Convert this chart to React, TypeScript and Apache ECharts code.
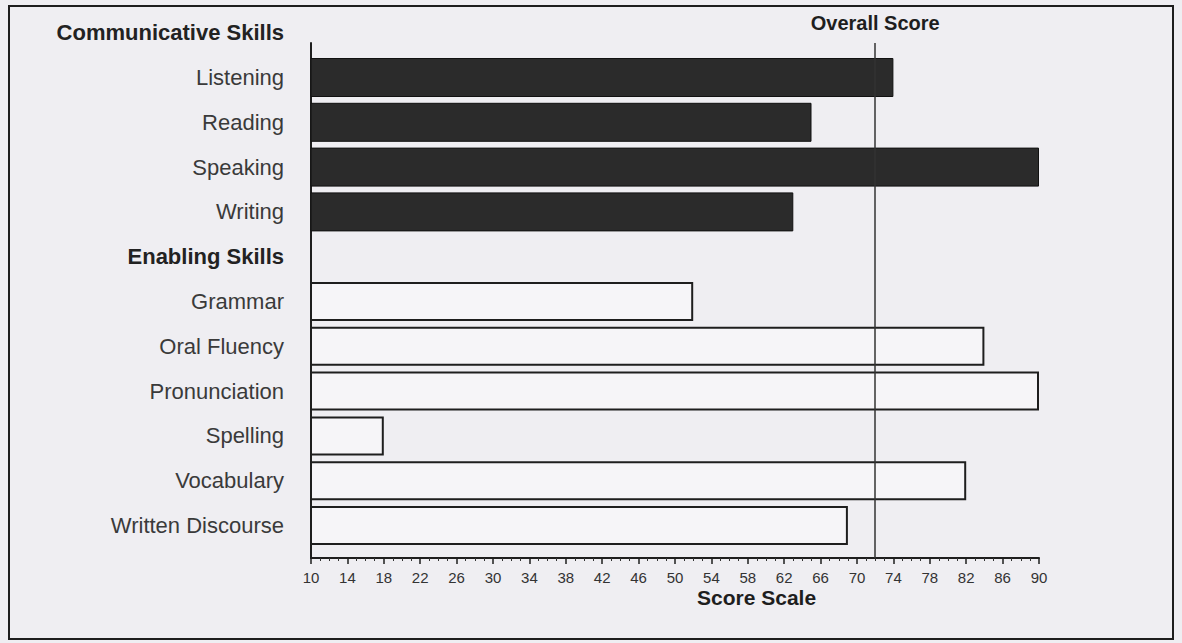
import React, { useEffect, useRef } from "react";
import * as echarts from "echarts";

const categories = [
  "Communicative Skills",
  "Listening",
  "Reading",
  "Speaking",
  "Writing",
  "Enabling Skills",
  "Grammar",
  "Oral Fluency",
  "Pronunciation",
  "Spelling",
  "Vocabulary",
  "Written Discourse",
];
const headers = ["Communicative Skills", "Enabling Skills"];
const communicative: (number | null)[] = [null, 74, 65, 90, 63, null, null, null, null, null, null, null];
const enabling: (number | null)[] = [null, null, null, null, null, null, 52, 84, 90, 18, 82, 69];
const overallScore = 72;
const scaleMin = 10;
const scaleMax = 90;
const scaleStep = 4;

export default function App() {
  const ref = useRef<HTMLDivElement>(null);
  useEffect(() => {
    if (!ref.current) return;
    const chart = echarts.init(ref.current, undefined, { renderer: "svg" });
    const font = "'Liberation Sans', Arial, sans-serif";
    chart.setOption({
      animation: false,
      backgroundColor: "#efeef2",
      textStyle: { fontFamily: font },
      graphic: [
        {
          type: "rect",
          shape: { x: 9, y: 6, width: 1164, height: 633 },
          style: { fill: "none", stroke: "#1e1e1e", lineWidth: 2 },
          silent: true,
        },
        {
          type: "text",
          left: 697,
          top: 587,
          style: { text: "Score Scale", font: `bold 21px ${font}`, fill: "#1e1e1e" },
        },
      ],
      grid: [
        { left: 311, right: 143, top: 10.3, height: 537.6 },
        { left: 311, right: 143, top: 43, bottom: 85 },
      ],
      xAxis: [
        { type: "value", gridIndex: 0, min: scaleMin, max: scaleMax, show: false },
        {
          type: "value",
          gridIndex: 1,
          min: scaleMin,
          max: scaleMax,
          interval: scaleStep,
          axisLine: { show: true, lineStyle: { color: "#1e1e1e", width: 2 } },
          axisTick: { show: true, length: 6, lineStyle: { color: "#1e1e1e", width: 1.5 } },
          minorTick: { show: true, splitNumber: 4, length: 3, lineStyle: { color: "#333" } },
          axisLabel: { color: "#333", fontSize: 15, margin: 12 },
          splitLine: { show: false },
        },
      ],
      yAxis: [
        {
          type: "category",
          gridIndex: 0,
          inverse: true,
          data: categories,
          axisLine: { show: false },
          axisTick: { show: false },
          axisLabel: {
            margin: 27,
            color: "#3a3a3a",
            fontSize: 22,
            formatter: (v: string) => (headers.includes(v) ? `{h|${v}}` : v),
            rich: { h: { fontWeight: "bold", fontSize: 22, color: "#222" } },
          },
        },
        {
          type: "value",
          gridIndex: 1,
          min: 0,
          max: 1,
          axisLine: { show: true, lineStyle: { color: "#1e1e1e", width: 2 } },
          axisTick: { show: false },
          axisLabel: { show: false },
          splitLine: { show: false },
        },
      ],
      series: [
        {
          type: "bar",
          xAxisIndex: 0,
          yAxisIndex: 0,
          stack: "s",
          data: communicative,
          barWidth: 39,
          itemStyle: { color: "#2b2b2b", borderColor: "#111", borderWidth: 1 },
        },
        {
          type: "bar",
          xAxisIndex: 0,
          yAxisIndex: 0,
          stack: "s",
          data: enabling,
          barWidth: 39,
          itemStyle: { color: "#f6f5f8", borderColor: "#1e1e1e", borderWidth: 2 },
        },
        {
          type: "line",
          xAxisIndex: 1,
          yAxisIndex: 1,
          data: [],
          markLine: {
            symbol: "none",
            silent: true,
            lineStyle: { color: "#333", width: 1.5, type: "solid" },
            label: {
              show: true,
              position: "end",
              distance: 10,
              formatter: "Overall Score",
              fontWeight: "bold",
              fontSize: 20,
              color: "#1e1e1e",
            },
            data: [{ xAxis: overallScore }],
          },
        },
      ],
    });
    return () => chart.dispose();
  }, []);
  return (
    <div
      ref={ref}
      style={{ position: "absolute", left: 0, top: 0, width: 1182, height: 643 }}
    />
  );
}
